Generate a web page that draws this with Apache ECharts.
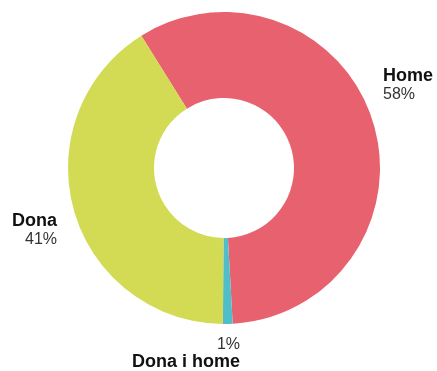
<!DOCTYPE html>
<html>
<head>
<meta charset="utf-8">
<script src="https://cdn.jsdelivr.net/npm/echarts@6/dist/echarts.min.js"></script>
<style>
  html, body { margin: 0; padding: 0; background: #fff; }
  #chart { width: 437px; height: 371px; }
</style>
</head>
<body>
<div id="chart"></div>
<script>
const names = ["Home", "Dona i home", "Dona"];
const values = [58, 1, 41];
const colors = ["#E8616F", "#50BEC8", "#D3DB55"];

// where each label sits (label block anchor)
const labelSpots = [
  { x: 383, y: 85, align: "left" },
  { x: 240, y: 354, align: "right" },
  { x: 57, y: 230, align: "right" }
];

const chart = echarts.init(document.getElementById("chart"));

const rich = {
  n: { fontFamily: "Liberation Sans, Arial, sans-serif", fontWeight: "bold", fontSize: 18, color: "#111", lineHeight: 19 },
  p: { fontFamily: "Liberation Sans, Arial, sans-serif", fontSize: 16, color: "#333", lineHeight: 17 }
};

chart.setOption({
  animation: false,
  series: [
    {
      type: "pie",
      center: [224, 168],
      radius: [70, 156],
      startAngle: 122,
      clockwise: true,
      avoidLabelOverlap: false,
      label: {
        show: true,
        position: "outside",
        alignTo: "none",
        overflow: "none",
        formatter: "{n|{b}}\n{p|{d}%}",
        rich: rich
      },
      labelLine: { show: false },
      labelLayout: function (params) {
        const s = labelSpots[params.dataIndex];
        return { x: s.x, y: s.y, align: s.align, verticalAlign: "middle", hideOverlap: false };
      },
      itemStyle: { borderWidth: 0 },
      emphasis: { disabled: true },
      data: names.map(function (name, i) {
        const item = { name: name, value: values[i], itemStyle: { color: colors[i] } };
        if (i === 1) {
          item.label = { formatter: "{p|{d}%}\n{n|{b}}", rich: rich, overflow: "none" };
        }
        return item;
      })
    }
  ]
});
</script>
</body>
</html>
